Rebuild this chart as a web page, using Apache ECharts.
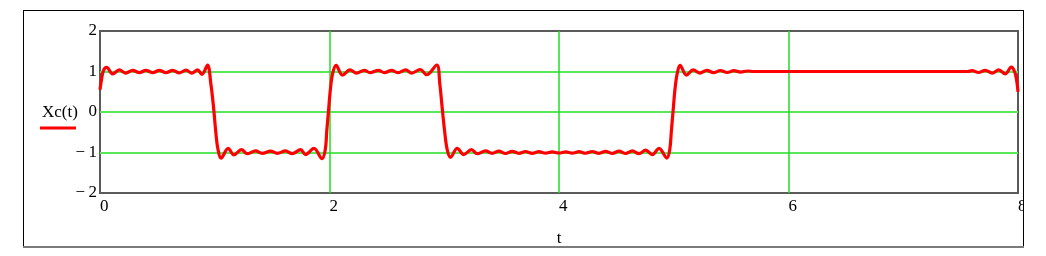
<!DOCTYPE html>
<html>
<head>
<meta charset="utf-8">
<script src="https://cdn.jsdelivr.net/npm/echarts@6/dist/echarts.min.js"></script>
<style>
html,body{margin:0;padding:0;background:#fff;}
#chart{width:1046px;height:256px;}
</style>
</head>
<body>
<div id="chart"></div>
<script>
// t values (x axis)
const tValues = [
  0, 0.013, 0.03, 0.058, 0.111, 0.168, 0.225, 0.285, 0.343, 0.40, 0.46, 0.517, 0.575, 0.634, 0.69, 0.75, 0.80, 0.85, 0.888, 0.937,
  0.966, 0.989, 1.01, 1.028, 1.055, 1.117, 1.167, 1.233, 1.283, 1.355, 1.414, 1.486, 1.545, 1.617, 1.675, 1.748, 1.791, 1.865, 1.935,
  1.963, 1.977, 1.992, 2.007, 2.027, 2.058, 2.112, 2.179, 2.236, 2.304, 2.353, 2.426, 2.478, 2.542, 2.594, 2.664, 2.716, 2.790, 2.847, 2.935,
  2.961, 2.981, 3.002, 3.025, 3.054, 3.113, 3.170, 3.237, 3.287, 3.360, 3.418, 3.476, 3.534, 3.592, 3.650, 3.708, 3.767, 3.825, 3.883, 3.941,
  3.999, 4.058, 4.116, 4.174, 4.232, 4.290, 4.348, 4.406, 4.465, 4.523, 4.581, 4.639, 4.697, 4.755, 4.813, 4.872, 4.940,
  4.965, 4.980, 4.995, 5.010, 5.030, 5.055, 5.111, 5.170, 5.229, 5.288, 5.347, 5.406, 5.465, 5.524, 5.583, 5.642, 5.700,
  6.5, 7.56, 7.60, 7.657, 7.715, 7.775, 7.832, 7.889, 7.942, 7.97, 7.987, 8.0
];
// Xc(t) values
const xcValues = [
  0.55, 0.80, 1.02, 1.10, 0.94, 1.04, 0.96, 1.03, 0.97, 1.03, 0.97, 1.03, 0.97, 1.03, 0.965, 1.035, 0.96, 1.04, 0.93, 1.16,
  0.70, 0.13, -0.52, -0.92, -1.14, -0.90, -1.06, -0.93, -1.03, -0.96, -1.02, -0.965, -1.02, -0.96, -1.03, -0.93, -1.05, -0.90, -1.15,
  -0.93, -0.44, 0.05, 0.54, 0.95, 1.15, 0.91, 1.04, 0.96, 1.03, 0.97, 1.03, 0.97, 1.03, 0.97, 1.04, 0.96, 1.05, 0.92, 1.16,
  0.70, 0.13, -0.44, -0.92, -1.12, -0.90, -1.05, -0.93, -1.03, -0.96, -1.02, -0.965, -1.025, -0.97, -1.02, -0.975, -1.02, -0.98, -1.015, -0.985,
  -1.012, -0.985, -1.015, -0.98, -1.018, -0.975, -1.02, -0.97, -1.022, -0.965, -1.025, -0.96, -1.03, -0.94, -1.05, -0.90, -1.14,
  -0.93, -0.44, 0.05, 0.54, 0.95, 1.15, 0.91, 1.04, 0.96, 1.03, 0.97, 1.025, 0.975, 1.02, 0.985, 1.012, 1.0,
  1.0, 1.0, 1.02, 0.975, 1.03, 0.96, 1.04, 0.94, 1.11, 1.0, 0.80, 0.50
];
const xTickLabels = ['0', '2', '4', '6', '8'];
const yTickLabels = ['\u2212\u20092', '\u2212\u20091', '0', '1', '2'];
const xTickValues = [0, 2, 4, 6, 8];
const yTickValues = [-2, -1, 0, 1, 2];

const seriesData = tValues.map((t, i) => [t, xcValues[i]]);
const serif = '"Liberation Serif", "DejaVu Serif", serif';

const chart = echarts.init(document.getElementById('chart'), null, {renderer: 'canvas'});
chart.setOption({
  animation: false,
  backgroundColor: '#fff',
  grid: {
    left: 100, top: 31, width: 918, height: 162,
    show: true, borderColor: '#5a5a5a', borderWidth: 2, backgroundColor: 'transparent'
  },
  xAxis: {
    type: 'value', min: 0, max: 8, interval: 2,
    name: 't', nameLocation: 'middle', nameGap: 37,
    nameTextStyle: {fontFamily: serif, fontSize: 17, color: '#000'},
    axisLine: {show: false},
    axisTick: {show: false},
    axisLabel: {
      fontFamily: serif, fontSize: 17, color: '#000', align: 'left', margin: 5,
      formatter: v => xTickLabels[xTickValues.indexOf(v)]
    },
    splitLine: {show: true, showMinLine: false, showMaxLine: false, lineStyle: {color: '#22dd22', width: 1.5}}
  },
  yAxis: {
    type: 'value', min: -2, max: 2, interval: 1,
    axisLine: {show: false},
    axisTick: {show: false},
    axisLabel: {
      fontFamily: serif, fontSize: 17, color: '#000', margin: 3,
      formatter: v => yTickLabels[yTickValues.indexOf(v)]
    },
    splitLine: {show: true, showMinLine: false, showMaxLine: false, lineStyle: {color: '#5ae65a', width: 2}}
  },
  series: [{
    type: 'line',
    data: seriesData,
    showSymbol: false,
    smooth: 0.35,
    lineStyle: {color: '#ff0000', width: 3.2},
    z: 5
  }],
  graphic: [
    {type: 'rect', z: 100, shape: {x: 1024, y: 0, width: 30, height: 256}, style: {fill: '#fff'}},
    {type: 'line', z: 101, shape: {x1: 23, y1: 10.5, x2: 1023, y2: 10.5}, style: {stroke: '#000', lineWidth: 1}},
    {type: 'line', z: 101, shape: {x1: 23.5, y1: 10, x2: 23.5, y2: 247}, style: {stroke: '#000', lineWidth: 1}},
    {type: 'line', z: 101, shape: {x1: 1023.5, y1: 10, x2: 1023.5, y2: 247}, style: {stroke: '#000', lineWidth: 1}},
    {type: 'line', z: 101, shape: {x1: 23, y1: 247, x2: 1024, y2: 247}, style: {stroke: '#7a7a7a', lineWidth: 2}},
    {type: 'text', z: 101, left: 42, top: 104, style: {text: 'Xc(t)', font: '17px ' + serif, fill: '#000'}},
    {type: 'line', z: 101, shape: {x1: 40, y1: 128, x2: 76, y2: 128}, style: {stroke: '#ff0000', lineWidth: 3}}
  ]
});
</script>
</body>
</html>
